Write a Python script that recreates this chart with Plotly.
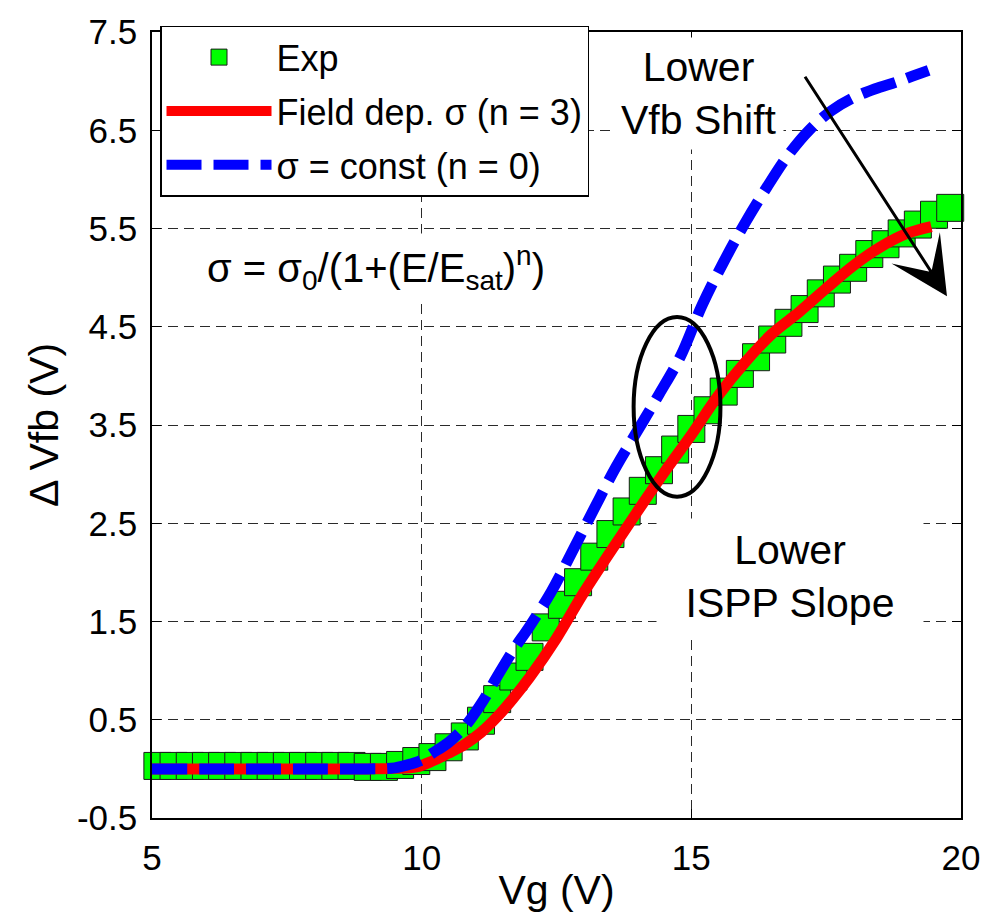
import plotly.graph_objects as go

# ---------------- data ----------------
vg_exp = [5.1, 5.4, 5.7, 6.0, 6.3, 6.6, 6.9, 7.2, 7.5, 7.8, 8.1, 8.4, 8.7,
          9.0, 9.3, 9.6, 9.9, 10.2, 10.5, 10.8, 11.1, 11.4, 11.7, 12.0, 12.3,
          12.6, 12.9, 13.2, 13.5, 13.8, 14.1, 14.4, 14.7, 15.0, 15.3, 15.6,
          15.9, 16.2, 16.5, 16.8, 17.1, 17.4, 17.7, 18.0, 18.3, 18.6, 18.9,
          19.2, 19.5, 19.8]
dvfb_exp = [0.03, 0.03, 0.03, 0.03, 0.03, 0.03, 0.03, 0.03, 0.03, 0.03, 0.03, 0.03, 0.03,
            0.02, 0.02, 0.04, 0.08, 0.12, 0.22, 0.33, 0.49, 0.71, 0.94, 1.14, 1.44,
            1.67, 1.90, 2.16, 2.39, 2.62, 2.83, 3.04, 3.25, 3.46, 3.65, 3.84,
            4.02, 4.19, 4.37, 4.54, 4.68, 4.84, 4.98, 5.10, 5.24, 5.34, 5.45,
            5.54, 5.64, 5.71]

vg_field = [5.0, 6.0, 7.0, 8.0, 9.0, 9.5, 9.9, 10.2, 10.5, 10.8, 11.1, 11.4, 11.7,
            12.0, 12.5, 13.0, 13.5, 14.0, 14.5, 15.0, 15.5, 16.0, 16.5, 17.0,
            17.5, 18.0, 18.5, 19.0, 19.45]
dvfb_field = [0.0, 0.0, 0.0, 0.0, 0.0, 0.005, 0.02, 0.08, 0.16, 0.25, 0.37, 0.53, 0.72,
              0.93, 1.33, 1.79, 2.21, 2.62, 3.02, 3.40, 3.80, 4.14, 4.43, 4.65,
              4.89, 5.12, 5.31, 5.45, 5.52]

vg_const = [5.0, 6.0, 7.0, 8.0, 9.0, 9.5, 9.8, 10.0, 10.2, 10.5, 10.8, 11.1, 11.4,
            11.7, 12.0, 12.4, 12.8, 13.2, 13.6, 14.0, 14.4, 14.8, 15.2, 15.6,
            16.0, 16.4, 16.8, 17.2, 17.6, 18.0, 18.4, 18.8, 19.1, 19.4]
dvfb_const = [0.0, 0.0, 0.0, 0.0, 0.0, 0.01, 0.05, 0.09, 0.16, 0.27, 0.43, 0.66, 0.94,
              1.21, 1.45, 1.80, 2.22, 2.65, 3.07, 3.44, 3.81, 4.20, 4.72, 5.16,
              5.56, 5.92, 6.25, 6.51, 6.70, 6.83, 6.92, 6.99, 7.05, 7.11]

x_ticks = [5, 10, 15, 20]
x_ticktext = ["5", "10", "15", "20"]
y_ticks = [-0.5, 0.5, 1.5, 2.5, 3.5, 4.5, 5.5, 6.5, 7.5]
y_ticktext = ["-0.5", "0.5", "1.5", "2.5", "3.5", "4.5", "5.5", "6.5", "7.5"]

FONT = "Liberation Sans, Arial, sans-serif"

fig = go.Figure()
fig.add_trace(go.Scatter(
    x=vg_exp, y=dvfb_exp, mode="markers", name="Exp",
    marker=dict(symbol="square", size=27, color="#00FF00",
                line=dict(color="#1a1a1a", width=1)),
    cliponaxis=False, legendgroup="a"))
fig.add_trace(go.Scatter(
    x=vg_field, y=dvfb_field, mode="lines", name="Field dep. σ (n = 3)",
    line=dict(color="#FF0000", width=11), line_shape="spline", legendgroup="b"))
fig.add_trace(go.Scatter(
    x=vg_const, y=dvfb_const, mode="lines", name="σ = const (n = 0)",
    line=dict(color="#0000FF", width=11, dash="35px,12px"), line_shape="spline",
    legendgroup="c"))

axis_common = dict(
    showline=True, linecolor="black", linewidth=1.5, mirror="ticks",
    ticks="inside", ticklen=9, tickwidth=1, tickcolor="black",
    showgrid=True, gridcolor="#2a2a2a", gridwidth=1, griddash="10px,6px",
    zeroline=False, tickfont=dict(family=FONT, size=35, color="black"),
)

fig.update_xaxes(range=[5, 20], tickvals=x_ticks, ticktext=x_ticktext,
                 ticklabelstandoff=8,
                 title=dict(text="Vg (V)", font=dict(family=FONT, size=41, color="black"),
                            standoff=0),
                 **axis_common)
fig.update_yaxes(range=[-0.5, 7.5], tickvals=y_ticks, ticktext=y_ticktext,
                 ticklabelstandoff=6,
                 title=dict(text="Δ Vfb (V)", font=dict(family=FONT, size=41, color="black"),
                            standoff=6),
                 **axis_common)

# ellipse highlighting the slope difference
fig.add_shape(type="circle", xref="x", yref="y", x0=13.93, x1=15.54, y0=2.77, y1=4.60,
              line=dict(color="black", width=4))

fig.add_annotation(x=19.74, y=4.81, ax=17.09, ay=7.06, xref="x", yref="y",
                   axref="x", ayref="y", text="", showarrow=True,
                   arrowhead=3, arrowsize=3.2, arrowwidth=3, arrowcolor="black")
fig.add_annotation(x=15.14, y=6.87, xref="x", yref="y", text="Lower<br>Vfb Shift",
                   showarrow=False, align="center", bgcolor="white", borderpad=6,
                   font=dict(family=FONT, size=41, color="black"))
fig.add_annotation(x=16.83, y=1.96, xref="x", yref="y", text="Lower<br>ISPP Slope",
                   showarrow=False, align="center", bgcolor="white", borderpad=8,
                   width=250,
                   font=dict(family=FONT, size=41, color="black"))
fig.add_annotation(x=9.15, y=5.1, xref="x", yref="y",
                   text="σ = σ<sub>0</sub>/(1+(E/E<sub>sat</sub>)<sup>n</sup>)",
                   showarrow=False, bgcolor="white", borderpad=6,
                   font=dict(family=FONT, size=40, color="black"))

fig.update_layout(
    width=994, height=921,
    margin=dict(l=152, r=33, t=23, b=103, pad=0),
    paper_bgcolor="white", plot_bgcolor="white",
    showlegend=True,
    legend=dict(x=0.0099, y=1.008, xanchor="left", yanchor="top",
                bgcolor="white", bordercolor="black", borderwidth=1.5,
                font=dict(family=FONT, size=36, color="black"),
                itemwidth=105, tracegroupgap=4),
    font=dict(family=FONT, color="black"),
)

fig.write_html("out.html")
